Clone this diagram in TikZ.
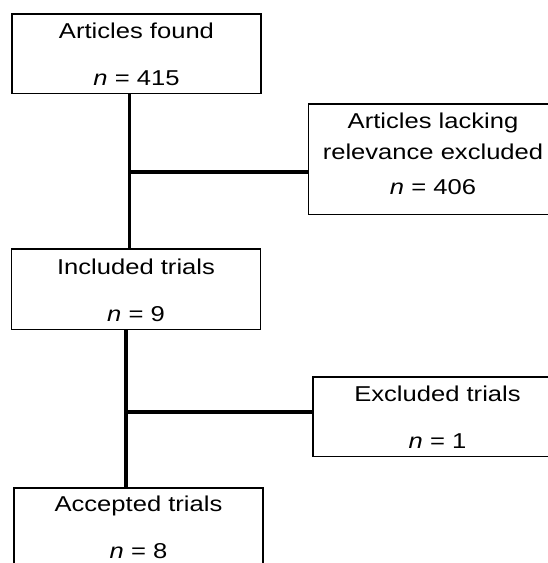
\documentclass[tikz,border=0pt]{standalone}
\usepackage{fontspec}
\setmainfont{Liberation Sans}[FakeStretch=1.19]

\tikzset{
  stage/.style={draw, line width=1.8pt, anchor=north, minimum width=249pt,
    inner xsep=0pt, inner ysep=0pt, align=center, text depth=7.5pt,
    font=\fontsize{21.5}{31}\selectfont},
  link/.style={line width=3.5pt}
}

\begin{document}
\begin{tikzpicture}[x=1pt, y=-1pt]

    \useasboundingbox (0,0) rectangle (548,563);
    \clip (0,0) rectangle (548,563);

    %----- LEFT COLUMN -----
    \node[stage, text height=72pt] (found) at (136.5,13)
        {Articles found\\[16pt]\textit{n} = 415};
    \node[stage, text height=73pt] (included) at (136,248)
        {Included trials\\[16pt]\textit{n} = 9};
    \node[stage, text height=71pt] (accepted) at (138.5,487)
        {Accepted trials\\[16pt]\textit{n} = 8};

    %----- RIGHT COLUMN (cut by the page edge) -----
    \node[stage, text height=91pt, text depth=19.5pt] (lacking) at (433,103)
        {Articles lacking\\relevance excluded\\[4pt]\textit{n} = 406};
    \node[stage, text height=72pt] (excluded) at (437.5,376)
        {Excluded trials\\[16pt]\textit{n} = 1};

    %----- CONNECTORS -----
    \coordinate (split1) at (129.5,172);
    \draw[link] (split1 |- found.south) -- (split1 |- included.north);
    \draw[link] (split1) -- (split1 -| lacking.west);

    \coordinate (split2) at (126,412);
    \draw[link] (split2 |- included.south) -- (split2 |- accepted.north);
    \draw[link] (split2) -- (split2 -| excluded.west);

\end{tikzpicture}
\end{document}
